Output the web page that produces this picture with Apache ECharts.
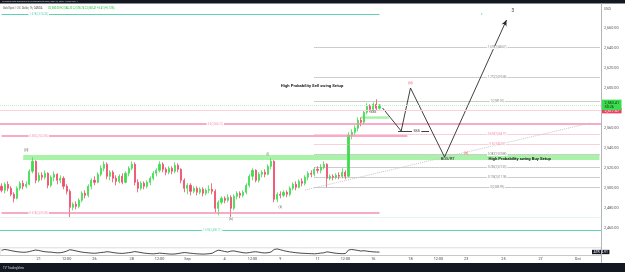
<!DOCTYPE html>
<html>
<head>
<meta charset="utf-8">
<script src="https://cdn.jsdelivr.net/npm/echarts@6/dist/echarts.min.js"></script>
<style>
html, body { margin: 0; padding: 0; background: #fff; }
#chart { width: 625px; height: 272px; }
</style>
</head>
<body>
<div id="chart"></div>
<script>
// 4h slots, 6 per trading day
const tradingDays = ['Aug 19', 'Aug 20', 'Aug 21', 'Aug 22', 'Aug 23', 'Aug 26', 'Aug 27', 'Aug 28', 'Aug 29', 'Aug 30',
    'Sep 2', 'Sep 3', 'Sep 4', 'Sep 5', 'Sep 6', 'Sep 9', 'Sep 10', 'Sep 11', 'Sep 12', 'Sep 13',
    'Sep 16', 'Sep 17', 'Sep 18', 'Sep 19', 'Sep 20', 'Sep 23', 'Sep 24', 'Sep 25', 'Sep 26', 'Sep 27',
    'Sep 30', 'Oct 1', 'Oct 2']
const sessionHours = ['00:00', '04:00', '08:00', '12:00', '16:00', '20:00']
const slotCount = 194

const tickKeys = ['Aug 21 00:00', 'Aug 22 12:00', 'Aug 26 00:00', 'Aug 28 00:00', 'Aug 29 12:00', 'Sep 2 00:00',
    'Sep 4 00:00', 'Sep 5 12:00', 'Sep 9 00:00', 'Sep 11 00:00', 'Sep 12 12:00', 'Sep 16 00:00',
    'Sep 18 00:00', 'Sep 19 12:00', 'Sep 23 00:00', 'Sep 25 00:00', 'Sep 27 00:00', 'Oct 1 00:00']
const tickTexts = ['21', '12:00', '26', '28', '12:00', 'Sep', '4', '12:00', '9', '11', '12:00', '16',
    '18', '12:00', '23', '25', '27', 'Oct']

// [open, close, low, high]
const candles = [
    [2502, 2498, 2496, 2505], [2498, 2504, 2495, 2506], [2504, 2500, 2497, 2507], [2500, 2494, 2492, 2502],
    [2494, 2490, 2486, 2496], [2490, 2500, 2489, 2502], [2500, 2505, 2498, 2507], [2505, 2502, 2499, 2508],
    [2502, 2504, 2500, 2507], [2504, 2517, 2503, 2519], [2517, 2527, 2515, 2531], [2527, 2508, 2505, 2528],
    [2508, 2513, 2506, 2516], [2513, 2511, 2508, 2516], [2511, 2515, 2509, 2518], [2515, 2503, 2500, 2516],
    [2503, 2511, 2501, 2513], [2511, 2514, 2507, 2517], [2514, 2508, 2504, 2515], [2508, 2510, 2505, 2513],
    [2510, 2502, 2499, 2512], [2502, 2497, 2494, 2504], [2497, 2481, 2471, 2499], [2481, 2484, 2478, 2486],
    [2484, 2482, 2479, 2487], [2482, 2488, 2480, 2490], [2488, 2495, 2486, 2497], [2495, 2493, 2490, 2498],
    [2493, 2502, 2491, 2504], [2502, 2508, 2499, 2510], [2508, 2506, 2503, 2512], [2506, 2514, 2505, 2516],
    [2514, 2520, 2512, 2523], [2520, 2524, 2517, 2527], [2524, 2512, 2509, 2526], [2512, 2516, 2508, 2518],
    [2516, 2510, 2506, 2518], [2510, 2507, 2503, 2513], [2507, 2512, 2505, 2514], [2512, 2506, 2504, 2515],
    [2506, 2515, 2505, 2517], [2515, 2520, 2512, 2522], [2520, 2524, 2518, 2527], [2524, 2506, 2503, 2526],
    [2506, 2500, 2496, 2509], [2500, 2505, 2498, 2507], [2505, 2502, 2499, 2507], [2502, 2506, 2500, 2508],
    [2506, 2510, 2503, 2512], [2510, 2515, 2508, 2517], [2515, 2518, 2512, 2520], [2518, 2524, 2516, 2527],
    [2524, 2519, 2516, 2526], [2519, 2516, 2513, 2521], [2516, 2520, 2514, 2522], [2520, 2517, 2514, 2522],
    [2517, 2523, 2515, 2526], [2523, 2519, 2516, 2525], [2519, 2508, 2505, 2520], [2508, 2500, 2496, 2510],
    [2500, 2503, 2494, 2505], [2503, 2497, 2493, 2505], [2497, 2500, 2495, 2502], [2500, 2496, 2493, 2502],
    [2496, 2499, 2494, 2501], [2499, 2495, 2492, 2501], [2495, 2498, 2493, 2500], [2498, 2499, 2495, 2503],
    [2499, 2497, 2494, 2505], [2497, 2480, 2476, 2499], [2480, 2486, 2473, 2488], [2486, 2490, 2484, 2492],
    [2490, 2488, 2485, 2492], [2488, 2491, 2486, 2494], [2491, 2480, 2471, 2493], [2480, 2492, 2478, 2494],
    [2492, 2495, 2489, 2497], [2495, 2493, 2490, 2497], [2493, 2496, 2491, 2498], [2496, 2503, 2494, 2505],
    [2503, 2512, 2501, 2514], [2512, 2518, 2508, 2520], [2518, 2508, 2506, 2519], [2508, 2514, 2506, 2516],
    [2514, 2516, 2511, 2518], [2516, 2514, 2511, 2519], [2514, 2522, 2513, 2524], [2522, 2527, 2519, 2530],
    [2527, 2489, 2486, 2528], [2489, 2494, 2486, 2496], [2494, 2493, 2490, 2497], [2493, 2496, 2491, 2498],
    [2496, 2494, 2491, 2498], [2494, 2500, 2492, 2502], [2500, 2504, 2498, 2506], [2504, 2501, 2498, 2507],
    [2501, 2507, 2500, 2509], [2507, 2505, 2502, 2510], [2505, 2511, 2503, 2513], [2511, 2515, 2508, 2517],
    [2515, 2514, 2511, 2518], [2514, 2519, 2512, 2521], [2519, 2518, 2515, 2522], [2518, 2521, 2515, 2524],
    [2521, 2524, 2519, 2527], [2524, 2510, 2501, 2525], [2510, 2512, 2508, 2514], [2512, 2511, 2508, 2514],
    [2511, 2513, 2509, 2515], [2513, 2512, 2509, 2516], [2512, 2516, 2510, 2520], [2516, 2512, 2509, 2518],
    [2512, 2553, 2511, 2556], [2553, 2556, 2549, 2559], [2556, 2560, 2553, 2563], [2560, 2568, 2557, 2571],
    [2568, 2566, 2562, 2571], [2566, 2576, 2564, 2578], [2576, 2582, 2574, 2585], [2582, 2579, 2576, 2584],
    [2579, 2584, 2577, 2586], [2584, 2580, 2578, 2589], [2580, 2583.41, 2578.74, 2584.2]
]

const atrValues = [
    6.2, 6.8, 6.5, 6.0, 5.6, 5.2, 5.0, 4.8, 4.9, 5.3,
    5.9, 6.4, 6.1, 5.6, 5.2, 5.0, 4.9, 4.6, 4.4, 4.5,
    4.9, 5.6, 6.6, 6.3, 5.8, 5.3, 4.9, 4.6, 4.4, 4.2,
    4.1, 4.3, 4.6, 4.8, 5.2, 5.0, 4.6, 4.3, 4.1, 4.0,
    4.2, 4.5, 4.8, 5.3, 5.0, 4.6, 4.2, 4.0, 3.8, 3.7,
    3.9, 4.2, 4.0, 3.8, 3.6, 3.5, 3.6, 3.9, 4.3, 4.6,
    4.4, 4.1, 3.9, 3.7, 3.6, 3.5, 3.6, 3.8, 4.1, 5.4,
    6.3, 5.9, 5.4, 5.0, 5.6, 5.8, 5.3, 4.9, 4.5, 4.3,
    4.6, 5.0, 5.2, 4.9, 4.5, 4.3, 4.5, 5.0, 6.8, 7.2,
    6.6, 6.0, 5.5, 5.1, 4.8, 4.5, 4.3, 4.1, 4.0, 3.9,
    3.8, 3.7, 3.9, 4.2, 4.4, 5.1, 4.8, 4.4, 4.1, 3.9,
    3.8, 3.9, 6.4, 6.8, 6.5, 6.1, 5.7, 5.9, 5.6, 5.3,
    5.1, 5.0, 4.91
]

// fib drawn on the Sep rally
const fibRatios = ['1.618', '1.272', '1', '0.618', '0.5', '0.382', '0.236', '0.118', '0']
const fibPrices = [2640.67, 2610.58, 2587.02, 2554.17, 2544.03, 2533.88, 2521.33, 2511.18, 2500.99]

// older levels from the left side
const levelRatios = ['1.618', '0.5', '0.382', '0.618', '1.618']
const levelPrices = [2674.28, 2564.12, 2552.06, 2475.38, 2458.11]
const faintLevel = 2471.2
const alertPrice = 2577.57
const buyZone = [2528.3, 2533.3]
const pocketZone = [2569.5, 2572]

// projected swing path [slot, price]
const wavePath = [[123, 2580.3], [129, 2557.3], [132, 2600.3], [143, 2531.3], [163, 2668.3]]
const sssLine = [[128, 2557.3], [138, 2557.3]]
const trendLine = [[98, 2498.3], [190, 2565.3]]

const waveTags = ['[iii]', '(iv)', '(i)', '(ii)', '(iii)', '(iv)', '3', 'BOS/RT', 'SSS', 's']
const waveTagAt = [[8, 2538], [74, 2469], [86, 2534], [90, 2481], [132, 2605], [150, 2535], [165, 2677], [144, 2529], [120, 2576], [155, 2674]]

const setupTexts = ['High Probability Sell swing Setup', 'High Probability swing Buy Setup']
const setupAt = [[90, 2602.3], [157, 2529.3]]

const cats = []
tradingDays.forEach(d => sessionHours.forEach(h => cats.push(d + ' ' + h)))
cats.length = slotCount

const FONT = 'Roboto, "Liberation Sans", sans-serif'
const UP = '#3ddc4f'
const DOWN = '#ef4a6a'
const TEAL = '#5fd3b0'
const PINK = '#f48fb1'

const fmt = v => v.toLocaleString('en-US', {minimumFractionDigits: 2, maximumFractionDigits: 2})

const seg = (a, b, p, q, style) => [{coord: [cats[a], p], lineStyle: style}, {coord: [cats[b], q]}]

const tag = (i, p, text, color, size, extra) => ({
    coord: [cats[i], p],
    symbol: 'rect',
    symbolSize: 1,
    itemStyle: {color: 'transparent'},
    label: Object.assign({
        show: true, position: 'inside', formatter: text, color: color,
        fontSize: size, fontFamily: FONT
    }, extra || {})
})

const last = candles[candles.length - 1]
const prevClose = candles[candles.length - 2][1]
const change = last[1] - prevClose

// lines
const lines = []
lines.push(seg(0, 122, levelPrices[0], levelPrices[0], {color: TEAL, width: 1, type: 'solid'}))
lines.push({yAxis: levelPrices[1], lineStyle: {color: PINK, width: 1.5, type: 'solid'}})
lines.push(seg(0, 131, levelPrices[2], levelPrices[2], {color: PINK, width: 1.5, type: 'solid'}))
lines.push(seg(0, 122, levelPrices[3], levelPrices[3], {color: PINK, width: 1.5, type: 'solid'}))
lines.push({yAxis: levelPrices[4], lineStyle: {color: TEAL, width: 1, type: 'solid'}})
lines.push({yAxis: faintLevel, lineStyle: {color: '#e1f5e8', width: 1, type: 'solid'}})
fibPrices.forEach((p, k) => {
    const pink = fibRatios[k] === '0.618' || fibRatios[k] === '0.5'
    lines.push(seg(101, 193, p, p, {color: pink ? '#f6a0b6' : '#9a9a9a', type: 'dotted', width: 1}))
})
lines.push(seg(trendLine[0][0], trendLine[1][0], trendLine[0][1], trendLine[1][1], {color: '#c8c8c8', type: 'dotted', width: 1}))
for (let k = 0; k < wavePath.length - 1; k++) {
    const a = wavePath[k], b = wavePath[k + 1]
    const item = seg(a[0], b[0], a[1], b[1], {color: '#2b2b2b', width: 0.9, type: 'solid'})
    if (k === wavePath.length - 2) {
        item[1].symbol = 'arrow'
        item[1].symbolSize = [4, 6]
    }
    lines.push(item)
}
lines.push(seg(sssLine[0][0], sssLine[1][0], sssLine[0][1], sssLine[1][1], {color: '#2b2b2b', width: 0.9, type: 'solid'}))
lines.push({
    yAxis: alertPrice,
    lineStyle: {color: '#fbd0dc', width: 1, type: 'solid'},
    label: {
        show: true, position: 'end', distance: 1, formatter: fmt(alertPrice),
        backgroundColor: '#f23d62', color: '#fff', fontSize: 3.8, fontFamily: FONT, padding: [0.8, 2.5, 0.5, 2.5]
    }
})
lines.push({
    yAxis: last[1],
    lineStyle: {color: '#bfeec6', width: 1, type: 'dotted'},
    label: {
        show: true, position: 'end', distance: 1, formatter: fmt(last[1]) + '\n50:26',
        backgroundColor: UP, color: '#0b2a10', fontSize: 3.8, lineHeight: 4.6, fontFamily: FONT, padding: [0.8, 2.5, 0.5, 2.5]
    }
})

// text tags
const tags = []
const lvlColors = [TEAL, PINK, PINK, PINK, TEAL]
const lvlSlots = [12, 69, 12, 12, 68]
levelPrices.forEach((p, k) => {
    tags.push(tag(lvlSlots[k], p, levelRatios[k] + '(' + fmt(p) + ')', lvlColors[k], 2.6, {backgroundColor: '#fff', padding: [0, 1]}))
})
fibPrices.forEach((p, k) => {
    const pink = fibRatios[k] === '0.618' || fibRatios[k] === '0.5'
    tags.push(tag(160, p, fibRatios[k] + '(' + fmt(p) + ')', pink ? '#f07a98' : '#777', 2.6, {backgroundColor: '#fff', padding: [0, 1]}))
})
waveTags.forEach((t, k) => {
    let color = '#555', size = 3
    if (k === 4 || k === 5) color = '#f23645'
    if (t === '3') { color = '#333'; size = 4.6 }
    if (t === 'BOS/RT') { color = '#222'; size = 4 }
    if (t === 'SSS') { color = '#333'; size = 3.4 }
    if (t === 's') { color = TEAL; size = 3.4 }
    tags.push(tag(waveTagAt[k][0], waveTagAt[k][1], t, color, size))
})
tags.push(tag(134, sssLine[0][1], 'SSS', '#222', 3.6, {backgroundColor: '#fff', padding: [0, 1.5]}))
setupTexts.forEach((t, k) => {
    tags.push(tag(setupAt[k][0], setupAt[k][1], t, '#1e1e1e', 4.2, {position: 'right', distance: 0, fontWeight: 'bold'}))
})

const chart = echarts.init(document.getElementById('chart'))
chart.setOption({
    animation: false,
    backgroundColor: '#fff',
    grid: [
        {left: -3, width: 604, top: 8.3, height: 240},
        {left: -3, width: 604, top: 247.8, height: 7.7, show: true, borderColor: '#dcdcdc', borderWidth: 1, backgroundColor: '#fff'}
    ],
    xAxis: [
        {
            type: 'category', gridIndex: 0, data: cats,
            axisLine: {show: false}, axisTick: {show: false}, axisLabel: {show: false}, splitLine: {show: false}
        },
        {
            type: 'category', gridIndex: 1, data: cats,
            axisLine: {show: true, lineStyle: {color: '#c8c8c8'}}, axisTick: {show: false}, splitLine: {show: false},
            axisLabel: {
                interval: (i, v) => tickKeys.indexOf(v) >= 0,
                formatter: v => tickTexts[tickKeys.indexOf(v)] || '',
                fontSize: 3.8, color: '#444', fontFamily: FONT, margin: 2
            }
        }
    ],
    yAxis: [
        {
            type: 'value', gridIndex: 0, position: 'right', min: 2440, max: 2680, interval: 20,
            axisLine: {show: true, lineStyle: {color: '#b2b5be'}}, axisTick: {show: false}, splitLine: {show: false},
            axisLabel: {
                fontSize: 3.8, color: '#555', fontFamily: FONT, margin: 3,
                formatter: v => (v === 2440 || v === 2680 || v === 2580) ? '' : fmt(v)
            }
        },
        {
            type: 'value', gridIndex: 1, position: 'right', min: 2.5, max: 8,
            axisLine: {show: true, lineStyle: {color: '#b2b5be'}}, axisTick: {show: false},
            axisLabel: {show: false}, splitLine: {show: false}
        }
    ],
    series: [
        {
            type: 'candlestick', xAxisIndex: 0, yAxisIndex: 0, data: candles, barWidth: 1.6,
            itemStyle: {color: UP, color0: DOWN, borderColor: UP, borderColor0: DOWN, borderWidth: 0.8},
            markArea: {
                silent: true,
                data: [
                    [{coord: [cats[7], buyZone[1]], itemStyle: {color: 'rgba(110,235,110,0.6)'}}, {coord: [cats[193], buyZone[0]]}],
                    [{coord: [cats[116], pocketZone[1]], itemStyle: {color: 'rgba(110,235,110,0.6)'}}, {coord: [cats[125], pocketZone[0]]}]
                ]
            },
            markLine: {silent: true, symbol: ['none', 'none'], label: {show: false}, lineStyle: {type: 'solid'}, data: lines},
            markPoint: {silent: true, data: tags}
        },
        {
            type: 'line', xAxisIndex: 1, yAxisIndex: 1, data: atrValues, symbol: 'none',
            lineStyle: {color: '#1b1b1b', width: 0.8}
        }
    ],
    graphic: [
        {type: 'rect', left: 0, top: 0, shape: {width: 625, height: 3.5}, style: {fill: '#131722'}},
        {type: 'text', x: 2, y: 1.8, style: {text: 'Forexsw1000 published on TradingView.com, Sep 16, 2024 13:09 UTC-4', fill: '#d1d4dc', fontSize: 2.4, fontFamily: FONT, verticalAlign: 'middle'}},
        {type: 'text', x: 3, y: 8.3, style: {text: 'Gold Spot / U.S. Dollar, 1h, OANDA', fill: '#555', fontSize: 2.6, fontFamily: FONT, verticalAlign: 'middle'}},
        {
            type: 'text', x: 48, y: 8.3, style: {
                text: 'O' + fmt(last[0]) + ' H' + fmt(last[3]) + ' L' + fmt(last[2]) + ' C' + fmt(last[1]) + ' ' +
                    (change >= 0 ? '+' : '') + change.toFixed(2) + ' (' + (change >= 0 ? '+' : '') + (change / prevClose * 100).toFixed(2) + '%)',
                fill: '#27c23b', fontSize: 2.6, fontFamily: FONT, verticalAlign: 'middle'
            }
        },
        {type: 'text', x: 604, y: 9, style: {text: 'USD', fill: '#555', fontSize: 3.6, fontFamily: FONT, verticalAlign: 'middle'}},
        {type: 'line', shape: {x1: 601.5, y1: 3.5, x2: 601.5, y2: 263}, style: {stroke: '#b2b5be', lineWidth: 1}},
        {
            type: 'text', x: 592, y: 252,
            style: {
                text: 'ATR  ' + atrValues[atrValues.length - 1].toFixed(2), fill: '#fff', backgroundColor: '#131722',
                fontSize: 3.4, fontFamily: FONT, verticalAlign: 'middle', padding: [0.8, 1.5, 0.5, 1.5]
            }
        },
        {type: 'rect', left: 0, top: 263, shape: {width: 625, height: 9}, style: {fill: '#131722'}},
        {type: 'text', x: 3, y: 268, style: {text: 'TV TradingView', fill: '#d1d4dc', fontSize: 3, fontFamily: FONT, verticalAlign: 'middle'}}
    ]
})
</script>
</body>
</html>
